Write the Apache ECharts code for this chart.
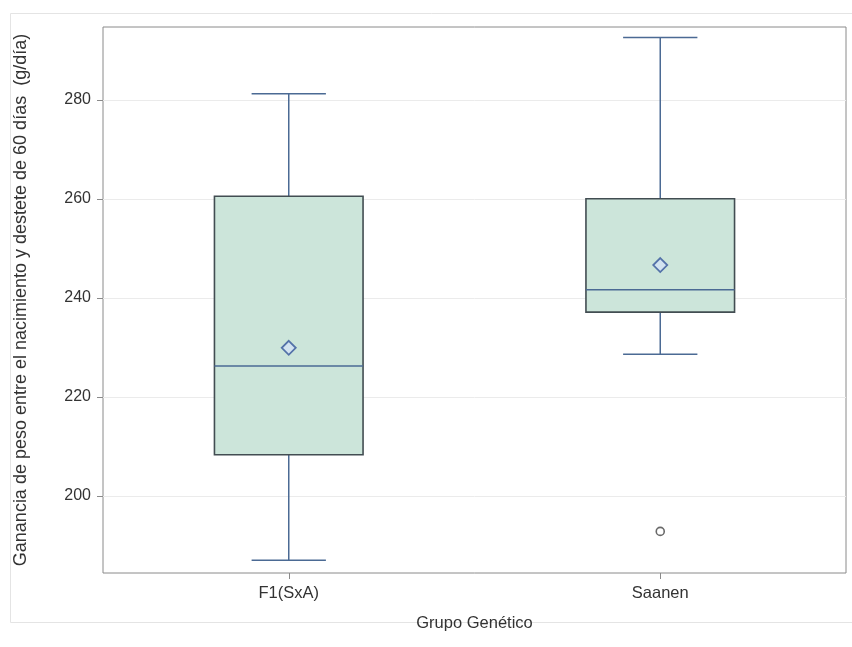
<!DOCTYPE html>
<html>
<head>
<meta charset="utf-8">
<script src="https://cdn.jsdelivr.net/npm/echarts@6/dist/echarts.min.js"></script>
<style>html,body{margin:0;padding:0;background:#fff}#c{width:852px;height:647px}</style>
</head>
<body>
<div id="c"></div>
<script>
var categories = ['F1(SxA)', 'Saanen'];
var boxMin    = [187.0, 228.6];
var boxQ1     = [208.3, 237.1];
var boxMedian = [226.2, 241.6];
var boxQ3     = [260.5, 260.0];
var boxMax    = [281.2, 292.6];
var means     = [229.9, 246.6];
var outliers  = [[1, 192.8]];
var yTicks    = [200, 220, 240, 260, 280];

var chart = echarts.init(document.getElementById('c'), null, {renderer: 'canvas'});
var boxData = categories.map(function (c, i) {
  return [i, boxMin[i], boxQ1[i], boxMedian[i], boxQ3[i], boxMax[i]];
});
var FONT = 'Liberation Sans';
var BLUE = '#4b6a94';

function renderBox(params, api) {
  var idx = api.value(0);
  var band = api.size([1, 0])[0];
  var bw = band * 0.4;
  var cw = bw * 0.5;
  var pMin = api.coord([idx, api.value(1)]);
  var pQ1 = api.coord([idx, api.value(2)]);
  var pMed = api.coord([idx, api.value(3)]);
  var pQ3 = api.coord([idx, api.value(4)]);
  var pMax = api.coord([idx, api.value(5)]);
  var x = pMed[0];
  var lineStyle = {stroke: BLUE, lineWidth: 1.5};
  return {
    type: 'group',
    children: [
      {type: 'line', shape: {x1: x, y1: pQ3[1], x2: x, y2: pMax[1]}, style: lineStyle},
      {type: 'line', shape: {x1: x, y1: pQ1[1], x2: x, y2: pMin[1]}, style: lineStyle},
      {type: 'line', shape: {x1: x - cw / 2, y1: pMax[1], x2: x + cw / 2, y2: pMax[1]}, style: lineStyle},
      {type: 'line', shape: {x1: x - cw / 2, y1: pMin[1], x2: x + cw / 2, y2: pMin[1]}, style: lineStyle},
      {type: 'rect', shape: {x: x - bw / 2, y: pQ3[1], width: bw, height: pQ1[1] - pQ3[1]},
        style: {fill: '#cce5da', stroke: '#424d52', lineWidth: 1.6}},
      {type: 'line', shape: {x1: x - bw / 2, y1: pMed[1], x2: x + bw / 2, y2: pMed[1]}, style: lineStyle}
    ]
  };
}

chart.setOption({
  animation: false,
  backgroundColor: '#fff',
  graphic: [{
    type: 'rect', left: 8, top: 11, silent: true, z: -10,
    shape: {width: 850, height: 609},
    style: {fill: 'none', stroke: '#e4e4e4', lineWidth: 1}
  }],
  grid: {left: 103, right: 6, top: 27, bottom: 74, show: true, borderColor: '#8a8a8a', borderWidth: 1, backgroundColor: 'transparent'},
  xAxis: {
    type: 'category',
    data: categories,
    name: 'Grupo Genético',
    nameLocation: 'middle',
    nameGap: 42,
    nameTextStyle: {fontFamily: FONT, fontSize: 16.5, color: '#333'},
    axisLine: {show: false},
    axisTick: {show: true, alignWithLabel: true, length: 6, lineStyle: {color: '#8a8a8a'}},
    axisLabel: {fontFamily: FONT, fontSize: 16.5, color: '#333', margin: 12},
    splitLine: {show: false}
  },
  yAxis: {
    type: 'value',
    min: 184.4,
    max: 294.7,
    splitNumber: 5,
    name: 'Ganancia de peso entre el nacimiento y destete de 60 días  (g/día)',
    nameLocation: 'middle',
    nameGap: 73,
    nameTextStyle: {fontFamily: FONT, fontSize: 18, color: '#333'},
    axisLine: {show: false},
    axisTick: {show: true, length: 6, lineStyle: {color: '#8a8a8a'}, customValues: yTicks},
    axisLabel: {fontFamily: FONT, fontSize: 16, color: '#333', margin: 12, customValues: yTicks},
    splitLine: {show: true, lineStyle: {color: '#ebebeb', width: 1}}
  },
  series: [
    {
      type: 'custom',
      renderItem: renderBox,
      encode: {x: 0, y: [1, 2, 3, 4, 5]},
      data: boxData,
      z: 2
    },
    {
      type: 'scatter',
      symbol: 'diamond',
      symbolSize: 14,
      itemStyle: {color: '#d3e2f5', borderColor: '#34559a', borderWidth: 1.8},
      data: means.map(function (m, i) { return [i, m]; }),
      z: 5
    },
    {
      type: 'scatter',
      symbol: 'circle',
      symbolSize: 8,
      itemStyle: {color: '#fff', borderColor: '#444', borderWidth: 1.6},
      data: outliers,
      z: 5
    }
  ]
});
</script>
</body>
</html>
